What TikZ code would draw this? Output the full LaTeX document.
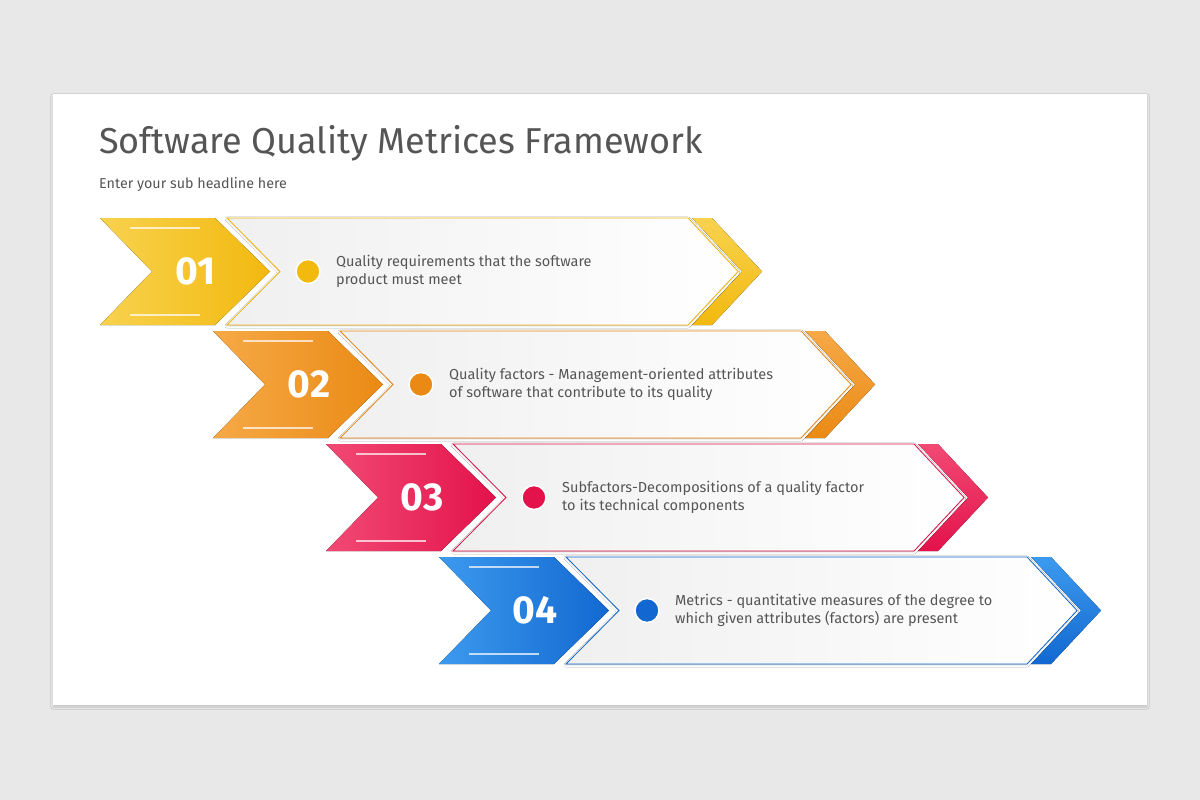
\documentclass[tikz,border=0pt]{standalone}
\usepackage{fontspec}
\setmainfont{Fira Sans}
\usetikzlibrary{shadows.blur}
\definecolor{bg}{HTML}{E9E8E9}
\definecolor{tgray}{HTML}{555555}
\definecolor{cA}{HTML}{F2B90F}\definecolor{cAl}{HTML}{F8D24E}
\definecolor{cB}{HTML}{EA8A14}\definecolor{cBl}{HTML}{F6A947}
\definecolor{cC}{HTML}{E3124A}\definecolor{cCl}{HTML}{F24A74}
\definecolor{cD}{HTML}{1268D0}\definecolor{cDl}{HTML}{3C9AEE}
\tikzset{
  numtxt/.style={text=white,font=\fontsize{39}{39}\selectfont\bfseries},
  desc/.style={text=tgray,font=\fontsize{14.5}{18}\selectfont,align=left,anchor=west,inner sep=0pt},
}
\newcommand{\rowblk}[6]{% x0,y0,num,color,light,text
\begin{scope}[shift={(#1,#2)}]
  \fill[left color=#5,right color=#4] (0,0)--(115,0)--(170,53.5)--(115,107)--(0,107)--(52,53.5)--cycle;
  \draw[white,line width=2pt,opacity=.7] (30,10)--(100,10) (30,97)--(100,97);
  \fill[top color=#5,bottom color=#4] (592,0)--(612,0)--(662,53.5)--(612,107)--(592,107)--(642,53.5)--cycle;
  \filldraw[draw=#4,line width=.8pt,left color=black!6,right color=white,blur shadow={shadow blur steps=5,shadow xshift=0pt,shadow yshift=-1pt,shadow opacity=12}]
     (127,0)--(588,0)--(638,53.5)--(588,107)--(127,107)--(180,53.5)--cycle;
  \node[numtxt] (n#3) at (96,53.5) {#3};
  \node[circle,fill=#4,draw=white,line width=1.5pt,minimum size=24pt,inner sep=0pt] (d#3) at (208,53.5) {};
  \node[desc] (t#3) at (236,53.5) {#6};
\end{scope}}
\begin{document}
\begin{tikzpicture}[x=1pt,y=-1pt]
\fill[bg] (0,0) rectangle (1200,800);
\useasboundingbox (0,0) rectangle (1200,800);
\fill[white,blur shadow={shadow blur steps=6,shadow xshift=0pt,shadow yshift=-2pt,shadow opacity=15}] (53,94) rectangle (1147,705);
\node[anchor=west,text=tgray,font=\fontsize{36}{38}\selectfont,inner sep=0pt] (title) at (99,143) {Software Quality Metrices Framework};
\node[anchor=west,text=tgray,font=\fontsize{14.3}{16}\selectfont,inner sep=0pt] (sub) at (99,184) {Enter your sub headline here};
\rowblk{100}{218}{01}{cA}{cAl}{Quality requirements that the software\\product must meet}
\rowblk{213}{331}{02}{cB}{cBl}{Quality factors - Management-oriented attributes\\of software that contribute to its quality}
\rowblk{326}{444}{03}{cC}{cCl}{Subfactors-Decompositions of a quality factor\\to its technical components}
\rowblk{439}{557}{04}{cD}{cDl}{Metrics - quantitative measures of the degree to\\which given attributes (factors) are present}
\end{tikzpicture}
\end{document}
